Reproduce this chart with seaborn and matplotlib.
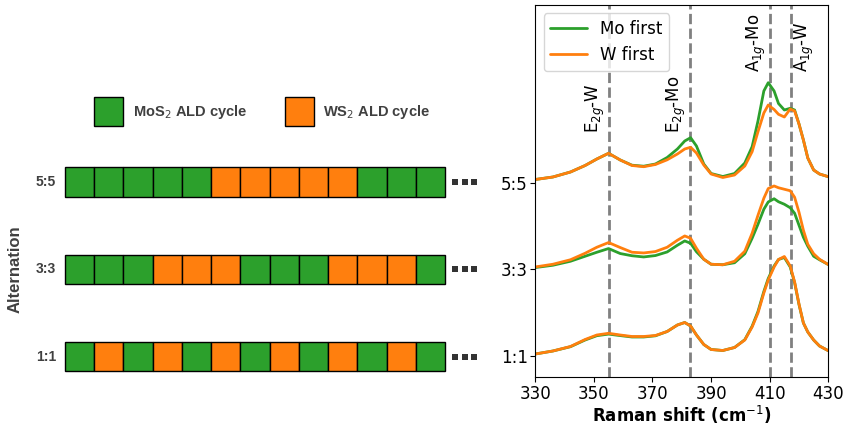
import pandas as pd
import matplotlib.pyplot as plt
import seaborn as sns
from matplotlib.patches import Rectangle

# ---- data ----
# ALD cycle sequences (M = MoS2 cycle, W = WS2 cycle)
alternations = ["5:5", "3:3", "1:1"]
sequences = ["MMMMMWWWWWMMM", "MMMWWWMMMWWWM", "MWMWMWMWMWMWM"]

# Raman spectra (a.u.)
raman_shift = [330, 336, 342, 347, 351, 355, 359, 363, 367, 371, 375, 378.5, 381, 383, 385,
               387.5, 390, 394, 398, 401.5, 404, 406, 408, 409.5, 411.5, 413, 415, 417, 418.5,
               420, 421.5, 423, 425, 427, 430]
mo_first_55 = [3.0, 5.5, 10.5, 17.0, 23.5, 29.2, 22.5, 17.3, 16.3, 18.5, 25.0, 33.5, 41.5, 44.8, 36.5,
               18.5, 9.0, 6.0, 9.0, 19.5, 35.8, 61.5, 91.5, 99.8, 91.5, 79.0, 72.5, 74.2, 72.5,
               58.5, 42.5, 24.5, 12.5, 8.5, 5.8]
w_first_55 = [3.0, 5.5, 10.5, 17.0, 23.5, 29.2, 22.5, 17.0, 15.8, 18.0, 22.7, 28.5, 33.5, 35.2, 29.5,
              17.5, 8.5, 5.0, 7.5, 16.5, 30.8, 50.8, 69.5, 77.5, 73.0, 68.2, 65.5, 73.5, 71.5,
              58.5, 42.5, 24.5, 12.5, 8.5, 5.8]
mo_first_33 = [1.7, 4.0, 8.0, 13.0, 17.0, 20.7, 15.7, 13.5, 12.3, 13.7, 17.3, 24.0, 28.3, 26.0, 17.5,
               10.0, 5.0, 4.5, 6.5, 15.5, 31.0, 45.0, 60.0, 67.3, 70.5, 67.5, 65.0, 61.5, 56.0,
               44.0, 32.0, 23.0, 13.0, 9.5, 4.7]
w_first_33 = [2.3, 5.0, 9.5, 16.0, 22.0, 26.7, 21.7, 17.0, 16.3, 17.7, 22.0, 29.0, 33.3, 31.0, 21.0,
              10.0, 5.0, 4.5, 8.0, 18.0, 36.0, 54.0, 71.0, 80.7, 83.3, 81.5, 80.0, 78.5, 72.0,
              57.0, 39.0, 25.0, 15.5, 10.0, 4.7]
mo_first_11 = [2.0, 5.0, 9.3, 16.0, 20.3, 21.9, 20.4, 19.0, 19.0, 20.2, 24.5, 31.0, 33.5, 30.0, 21.0,
               11.5, 6.5, 5.5, 8.5, 16.3, 29.8, 44.5, 64.5, 77.5, 90.0, 96.5, 98.5, 89.0, 73.5,
               51.5, 33.0, 24.0, 16.0, 10.0, 5.3]
w_first_11 = [2.0, 5.0, 9.5, 16.5, 21.0, 22.7, 21.0, 19.5, 19.5, 20.5, 24.5, 31.0, 33.5, 30.0, 21.0,
              11.5, 6.5, 5.5, 8.5, 16.0, 29.0, 43.0, 63.0, 76.0, 89.0, 96.5, 99.5, 90.0, 74.0,
              52.0, 33.0, 24.0, 16.0, 10.0, 5.3]

peak_pos = [355, 382.8, 410, 417.3]
peak_labels = [r"E$_{2g}$-W", r"E$_{2g}$-Mo", r"A$_{1g}$-Mo", r"A$_{1g}$-W"]
peak_text_y = [223, 223, 284, 284]
peak_text_side = ["left", "left", "left", "right"]

GREEN = "#2ca02c"
ORANGE = "#ff7f0e"
TXT = "#404040"
STEP = 86.75  # vertical offset between stacked spectra

sns.set_style("ticks", {"axes.edgecolor": "black", "text.color": "black",
                        "xtick.color": "black", "ytick.color": "black",
                        "axes.labelcolor": "black"})
plt.rcParams["font.family"] = ["DejaVu Sans"]

fig = plt.figure(figsize=(8.54, 4.24), dpi=100)

# ---- left: ALD cycle schematic ----
u = 29.25  # pixels per cycle square
axl = fig.add_axes([0, 0, 490 / 854, 1])
axl.set_xlim(-65 / u, (490 - 65) / u)
axl.set_ylim(424 / u, 0)
axl.axis("off")

cmap = {"M": GREEN, "W": ORANGE}
lfont = dict(family=["Liberation Sans", "DejaVu Sans"], fontweight="bold", color=TXT)
for i, (lab, seq) in enumerate(zip(alternations, sequences)):
    top = 5.72 + 2.99 * i
    for j, c in enumerate(seq):
        axl.add_patch(Rectangle((j, top), 1, 1, facecolor=cmap[c], edgecolor="black", lw=1))
    axl.text(-0.3, top + 0.5, lab, ha="right", va="center", fontsize=10, **lfont)
    axl.scatter([len(seq) + 0.35, len(seq) + 0.68, len(seq) + 1.0], [top + 0.5] * 3,
                marker="s", s=14, color="#333333", linewidths=0)

axl.add_patch(Rectangle((1.0, 3.31), 1, 1, facecolor=GREEN, edgecolor="black", lw=1))
axl.add_patch(Rectangle((7.52, 3.31), 1, 1, facecolor=ORANGE, edgecolor="black", lw=1))
axl.text(2.31, 3.83, r"MoS$_2$ ALD cycle", ha="left", va="center", fontsize=10.5, **lfont)
axl.text(8.81, 3.83, r"WS$_2$ ALD cycle", ha="left", va="center", fontsize=10.5, **lfont)
axl.text(-1.71, 9.2, "Alternation", rotation=90, ha="center", va="center", fontsize=12, **lfont)

# ---- right: Raman spectra ----
rows = []
spectra = [("1:1", mo_first_11, w_first_11), ("3:3", mo_first_33, w_first_33),
           ("5:5", mo_first_55, w_first_55)]
for k, (lab, mo, w) in enumerate(spectra):
    for name, vals in (("Mo first", mo), ("W first", w)):
        for x, v in zip(raman_shift, vals):
            rows.append({"shift": x, "y": v + k * STEP, "order": name, "alt": lab})
df = pd.DataFrame(rows)

ax = fig.add_axes([535.3 / 854, (424 - 377.3) / 424, 293 / 854, 372.3 / 424])
sns.lineplot(data=df, x="shift", y="y", hue="order", units="alt", estimator=None,
             hue_order=["Mo first", "W first"], palette=[GREEN, ORANGE], lw=2, ax=ax)

for p, lab, yt, side in zip(peak_pos, peak_labels, peak_text_y, peak_text_side):
    ax.axvline(p, color="gray", ls="--", lw=2, zorder=0)
    if side == "left":
        ax.text(p - 0.6, yt, lab, rotation=90, ha="right", va="bottom", fontsize=12)
    else:
        ax.text(p + 0.6, yt, lab, rotation=90, ha="left", va="bottom", fontsize=12)

ax.set_xlim(330, 430)
ax.set_ylim(-21.3, 351)
ax.set_xticks([330, 350, 370, 390, 410, 430])
ax.set_yticks([0, STEP, 2 * STEP])
ax.set_yticklabels(["1:1", "3:3", "5:5"])
ax.tick_params(labelsize=12, length=3.5, width=0.8, pad=2)
ax.set_xlabel(r"Raman shift (cm$^{-1}$)", fontsize=12, fontweight="bold", labelpad=0.5)
ax.set_ylabel("")
h, l = ax.get_legend_handles_labels()
ax.legend(h, l, loc="upper left", fontsize=12, handlelength=2.2)

fig.savefig("out.png", dpi=100)
